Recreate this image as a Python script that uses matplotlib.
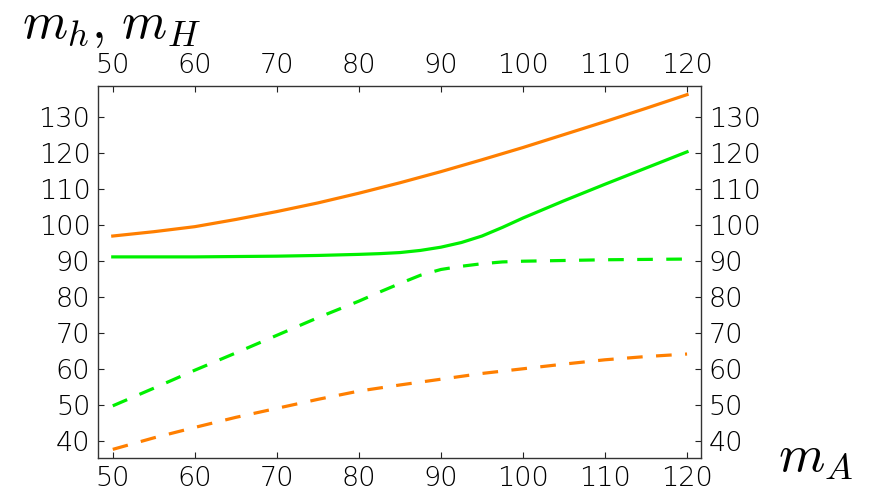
import matplotlib
matplotlib.use('Agg')
import matplotlib.pyplot as plt

plt.rcParams['mathtext.fontset'] = 'cm'

# m_A values and the four mass curves
mA_heavy = [50, 55, 60, 65, 70, 75, 80, 85, 90, 95, 100, 105, 110, 115, 120]
mH_orange = [97.0, 98.2, 99.6, 101.6, 103.8, 106.2, 108.9, 111.8, 114.9,
             118.2, 121.6, 125.2, 128.8, 132.5, 136.3]
mh_orange = [37.7, 40.9, 43.8, 46.6, 49.1, 51.6, 53.9, 55.6, 57.2,
             58.8, 60.1, 61.4, 62.6, 63.5, 64.2]

mA_green = [50, 55, 60, 65, 70, 75, 80, 82.5, 85, 87.5, 90, 92.5, 95, 97.5,
            100, 105, 110, 115, 120]
mH_green = [91.2, 91.2, 91.2, 91.3, 91.4, 91.6, 91.9, 92.1, 92.4, 93.0, 93.9,
            95.2, 97.0, 99.4, 102.0, 106.8, 111.4, 115.9, 120.4]
mh_green = [49.8, 54.7, 59.7, 64.5, 69.4, 74.3, 78.9, 81.4, 83.8, 86.1, 87.7,
            88.6, 89.3, 89.8, 90.0, 90.2, 90.4, 90.5, 90.6]

xticks = [50, 60, 70, 80, 90, 100, 110, 120]
yticks = [40, 50, 60, 70, 80, 90, 100, 110, 120, 130]

orange = '#ff7f00'
green = '#00f000'

fig = plt.figure(figsize=(8.7, 4.91), dpi=100)
ax = fig.add_axes([98 / 870, 1 - 458 / 491, (701 - 98) / 870, (458 - 86) / 491])

lw = 2.3
dash = (4.9, 4.2)
ax.plot(mA_heavy, mH_orange, color=orange, lw=lw)
ax.plot(mA_green, mH_green, color=green, lw=lw)
ax.plot(mA_green, mh_green, color=green, lw=lw, dashes=dash)
ax.plot(mA_heavy, mh_orange, color=orange, lw=lw, dashes=dash)

ax.set_xlim(48.2, 121.7)
ax.set_ylim(35.3, 138.7)
ax.set_xticks(xticks)
ax.set_yticks(yticks)

ax.tick_params(direction='in', length=4, width=0.8, color='#222222',
               labelsize=19.5, pad=5.5,
               top=True, right=True, labeltop=True, labelright=True)
for lab in ax.get_xticklabels(which='both') + ax.get_yticklabels(which='both'):
    lab.set_fontweight('light')
for lab in ax.xaxis.get_ticklabels() + ax.yaxis.get_ticklabels():
    lab.set_fontweight('light')
for s in ax.spines.values():
    s.set_color('#333333')
    s.set_linewidth(1.0)

fig.text(22 / 870, 1 - 38 / 491, r'$m_h,\, m_H$', fontsize=37, va='baseline', ha='left')
fig.text(778 / 870, 1 - 471 / 491, r'$m_A$', fontsize=38, va='baseline', ha='left')

fig.savefig('out.png', dpi=100)
